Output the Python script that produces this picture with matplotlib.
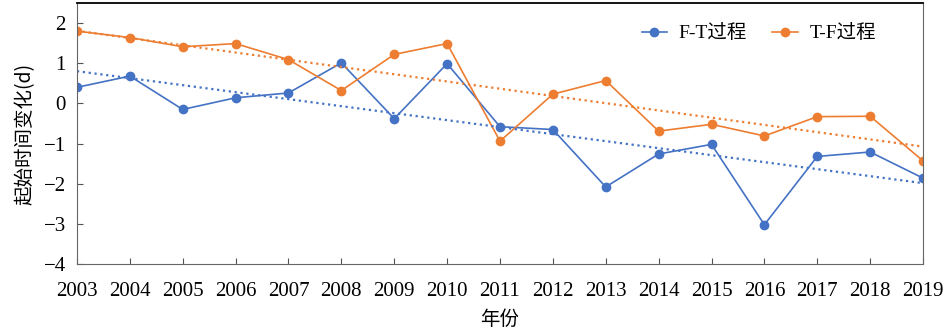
import matplotlib
matplotlib.use('Agg')
import matplotlib.pyplot as plt
import numpy as np

plt.rcParams['font.family'] = ['Liberation Serif', 'Noto Sans CJK SC']
plt.rcParams['axes.unicode_minus'] = True

years = list(range(2003, 2020))
ft_values = [0.40, 0.68, -0.15, 0.14, 0.26, 1.01, -0.38, 0.99, -0.58, -0.65,
             -2.08, -1.26, -1.02, -3.02, -1.32, -1.21, -1.86]
tf_values = [1.80, 1.64, 1.41, 1.49, 1.09, 0.32, 1.22, 1.49, -0.94, 0.23,
             0.57, -0.69, -0.52, -0.81, -0.33, -0.32, -1.43]
ft_label = 'F-T过程'
tf_label = 'T-F过程'

blue = '#4472C4'
orange = '#ED7D31'

fig = plt.figure(figsize=(9.5, 3.33), dpi=100)
ax = fig.add_axes([0.081, 0.207, 0.8906, 0.784])

x = np.array(years)
ax.plot(x, ft_values, '-o', color=blue, lw=1.2, ms=6, label=ft_label)
ax.plot(x, tf_values, '-o', color=orange, lw=1.2, ms=6, label=tf_label)

# linear trend lines
for vals, c in [(ft_values, blue), (tf_values, orange)]:
    k, b = np.polyfit(x, vals, 1)
    ax.plot(x, k * x + b, ':', color=c, lw=1.6)

ax.set_xlim(2003, 2019)
ax.set_ylim(-4, 2.5)
ax.set_xticks(years)
ax.set_yticks(range(-4, 3))
ax.tick_params(direction='in', labelsize=15, color='#555555', length=4)
ax.tick_params(axis='x', pad=13)
ax.tick_params(axis='y', pad=8)
for s in ['left', 'right', 'bottom']:
    ax.spines[s].set_color('#666666')
ax.spines['top'].set_color('black')
ax.spines['top'].set_linewidth(1.3)

ax.set_ylabel('起始时间变化(d)', fontsize=14, family=['Noto Sans CJK SC'], labelpad=6)
ax.set_xlabel('年份', fontsize=14, family=['Noto Sans CJK SC'], labelpad=6)

ax.legend(loc='upper right', ncol=2, frameon=False, fontsize=14,
          bbox_to_anchor=(0.965, 0.985), columnspacing=1.3, handlelength=1.3,
          handletextpad=0.6)

fig.savefig('out.png', dpi=100)
